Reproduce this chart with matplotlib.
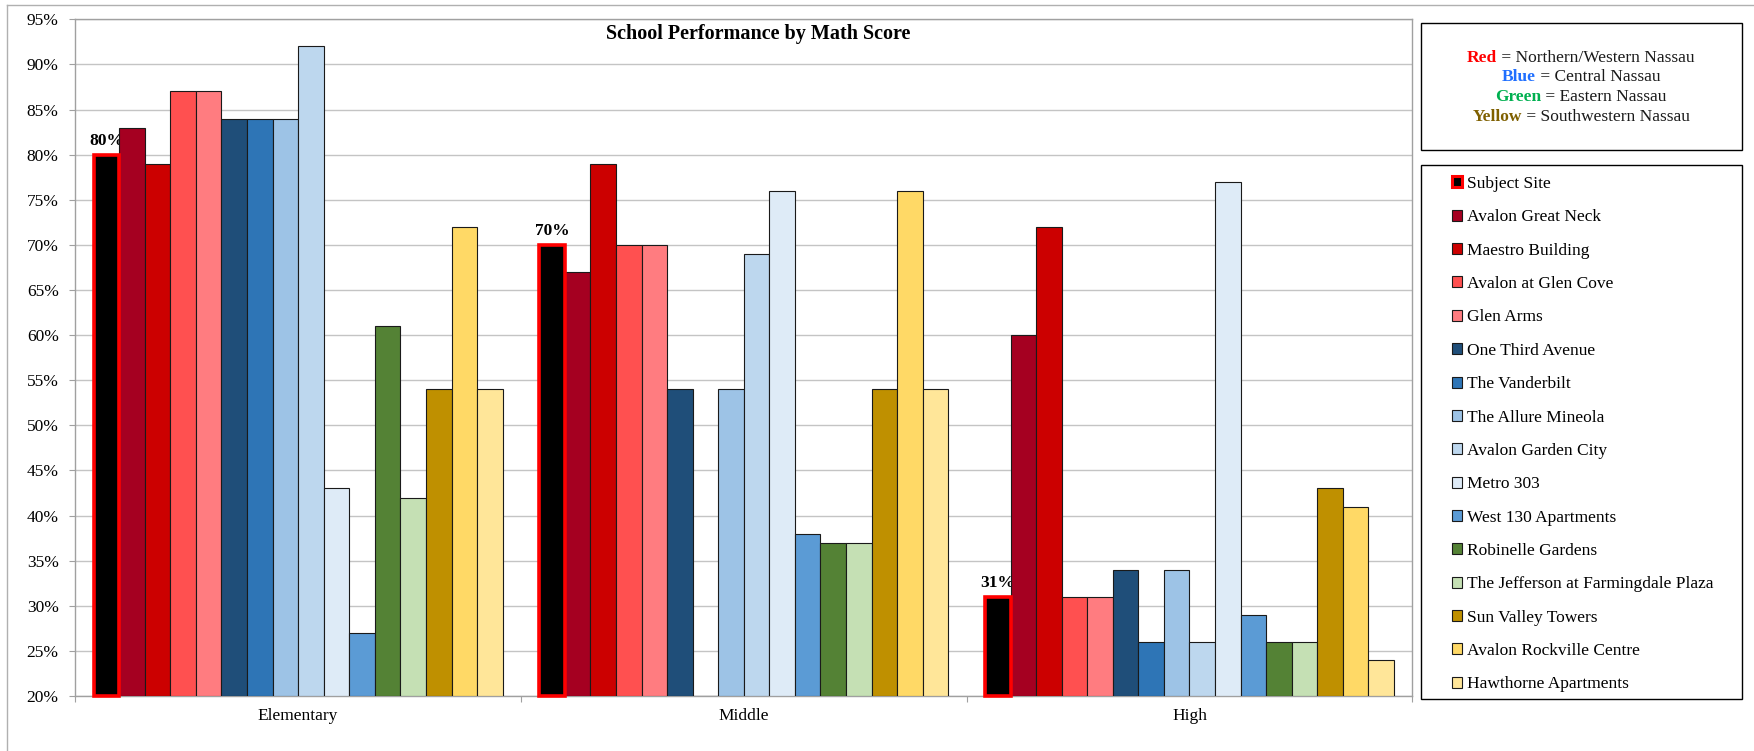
import numpy as np
import matplotlib
matplotlib.use('Agg')
import matplotlib.pyplot as plt
from matplotlib.patches import Patch, Rectangle
from matplotlib.lines import Line2D
from matplotlib.ticker import FixedLocator, FuncFormatter

plt.rcParams['font.family'] = ['Liberation Serif', 'DejaVu Serif']

# data
levels = ['Elementary', 'Middle', 'High']
sites = ['Subject Site', 'Avalon Great Neck', 'Maestro Building', 'Avalon at Glen Cove',
         'Glen Arms', 'One Third Avenue', 'The Vanderbilt', 'The Allure Mineola',
         'Avalon Garden City', 'Metro 303', 'West 130 Apartments', 'Robinelle Gardens',
         'The Jefferson at Farmingdale Plaza', 'Sun Valley Towers', 'Avalon Rockville Centre',
         'Hawthorne Apartments']
colors = ['#000000', '#A50021', '#CC0000', '#FF5050', '#FF7C80', '#1F4E79', '#2E75B6',
          '#9DC3E6', '#BDD7EE', '#DEEBF7', '#5B9BD5', '#548235', '#C5E0B4', '#BF9000',
          '#FFD966', '#FFE699']
elementary = [80, 83, 79, 87, 87, 84, 84, 84, 92, 43, 27, 61, 42, 54, 72, 54]
middle = [70, 67, 79, 70, 70, 54, 20, 54, 69, 76, 38, 37, 37, 54, 76, 54]
high = [31, 60, 72, 31, 31, 34, 26, 34, 26, 77, 29, 26, 26, 43, 41, 24]
region_words = ['Red', 'Blue', 'Green', 'Yellow']
region_names = [' = Northern/Western Nassau', ' = Central Nassau', ' = Eastern Nassau',
                ' = Southwestern Nassau']
region_colors = ['#FF0000', '#1F6FFF', '#00B050', '#7F6000']

W, H = 1754, 751
FS = 12.5
fig = plt.figure(figsize=(W / 100, H / 100), dpi=100)

def fx(x):
    return x / W

def fy(y):
    return 1 - y / H

# outer chart frame (top & left edges visible)
fig.add_artist(Line2D([fx(7), 1], [fy(5.3), fy(5.3)], color='#B0B0B0', lw=1))
fig.add_artist(Line2D([fx(7), fx(7)], [fy(5.3), 0], color='#B0B0B0', lw=1))

ax = fig.add_axes([fx(75.3), fy(696), fx(1412.3 - 75.3), (696 - 19.3) / H])

scores = np.array([elementary, middle, high])
nsite = len(sites)
w = 0.9177 / nsite
xg = np.arange(len(levels))
for i, name in enumerate(sites):
    vals = scores[:, i]
    xpos = xg + (i - (nsite - 1) / 2) * w
    if i == 0:
        ax.bar(xpos, vals - 20, w, bottom=20, color='black', edgecolor='red',
               linewidth=2.6, zorder=4, clip_on=False)
        for x, v in zip(xpos, vals):
            ax.annotate(f'{v}%', (x, v), xytext=(0, 4), textcoords='offset points',
                        ha='center', va='bottom', fontweight='bold', fontsize=FS)
    else:
        ax.bar(xpos, vals - 20, w, bottom=20, color=colors[i], edgecolor='#1a1a1a',
               linewidth=0.8, zorder=3)

ax.set_xlim(-0.5, 2.5)
ax.set_ylim(20, 95)
ax.set_yticks(np.arange(20, 96, 5))
ax.yaxis.set_major_formatter(FuncFormatter(lambda v, p: f'{int(v)}%'))
ax.yaxis.grid(True, color='#C4C4C4', linewidth=1.0, zorder=0)
ax.set_axisbelow(True)
ax.xaxis.set_major_locator(FixedLocator([-0.5, 0.5, 1.5, 2.5]))
ax.xaxis.set_minor_locator(FixedLocator(xg))
ax.set_xticklabels([])
ax.set_xticklabels(levels, minor=True)
ax.tick_params(axis='x', which='major', length=4, color='#A0A0A0')
ax.tick_params(axis='x', which='minor', length=0, pad=9, labelsize=FS)
ax.tick_params(axis='y', length=4, color='#A0A0A0', pad=8, labelsize=FS)
for s in ax.spines.values():
    s.set_color('#A0A0A0')
    s.set_linewidth(1.0)

fig.text(fx(758), fy(34), 'School Performance by Math Score', ha='center', va='center',
         fontsize=14.5, fontweight='bold')

# region key box
fig.add_artist(Rectangle((fx(1420.7), fy(150)), fx(1742 - 1420.7), (150 - 22.7) / H,
                         transform=fig.transFigure, fill=False, edgecolor='black', lw=1))
renderer = fig.canvas.get_renderer()
cx = 1581
for k, (word, rest, c) in enumerate(zip(region_words, region_names, region_colors)):
    yy = fy(57.7 + k * 19.7)
    t1 = fig.text(0, yy, word, color=c, fontweight='bold', fontsize=FS, va='center')
    t2 = fig.text(0, yy, rest, color='#1a1a1a', fontsize=FS, va='center')
    w1 = t1.get_window_extent(renderer).width
    w2 = t2.get_window_extent(renderer).width
    start = cx - (w1 + w2) / 2
    t1.set_x(fx(start))
    t2.set_x(fx(start + w1))

# site legend box
fig.add_artist(Rectangle((fx(1420.7), fy(698.7)), fx(1742 - 1420.7), (698.7 - 164.7) / H,
                         transform=fig.transFigure, fill=False, edgecolor='black', lw=1))
handles = [Patch(facecolor='black', edgecolor='red', linewidth=2.2)]
handles += [Patch(facecolor=c, edgecolor='#1a1a1a', linewidth=0.8) for c in colors[1:]]
fig.legend(handles, sites, loc='upper left', bbox_to_anchor=(fx(1452), fy(176)),
           frameon=False, fontsize=FS, handlelength=0.6, handleheight=0.6,
           handletextpad=0.25, labelspacing=1.0, borderpad=0, borderaxespad=0)

plt.savefig('out.png', dpi=100)
plt.close()
